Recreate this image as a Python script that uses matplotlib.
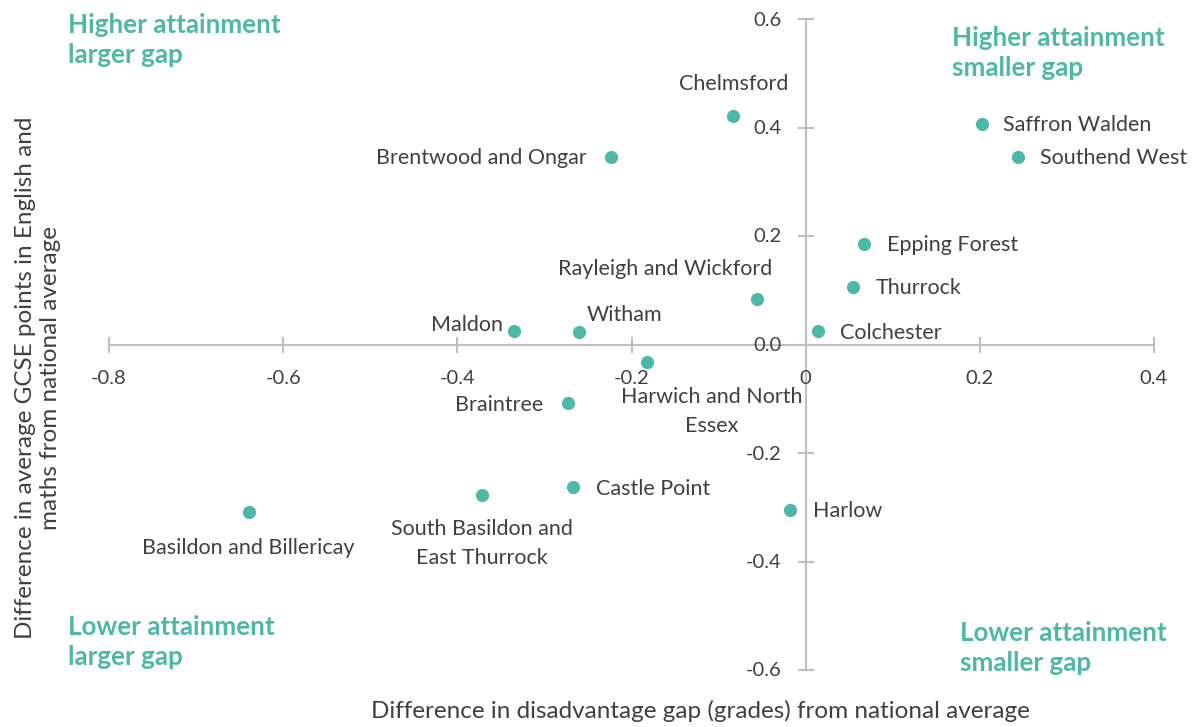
import matplotlib
matplotlib.use("Agg")
import matplotlib.pyplot as plt

plt.rcParams['font.family'] = ['Lato', 'DejaVu Sans']

names = ["Chelmsford", "Brentwood and Ongar", "Saffron Walden", "Southend West",
         "Epping Forest", "Thurrock", "Rayleigh and Wickford", "Colchester",
         "Maldon", "Witham", "Harwich and North\nEssex", "Braintree",
         "Castle Point", "South Basildon and\nEast Thurrock", "Basildon and Billericay",
         "Harlow"]
gap_diff = [-0.083, -0.223, 0.203, 0.244, 0.067, 0.054, -0.056, 0.014,
            -0.335, -0.260, -0.182, -0.273, -0.267, -0.372, -0.639, -0.018]
attain_diff = [0.421, 0.346, 0.406, 0.346, 0.185, 0.106, 0.084, 0.025,
               0.025, 0.023, -0.032, -0.108, -0.263, -0.277, -0.309, -0.305]

x_ticks = [-0.8, -0.6, -0.4, -0.2, 0, 0.2, 0.4]
x_tick_labels = ["-0.8", "-0.6", "-0.4", "-0.2", "0", "0.2", "0.4"]
y_ticks = [-0.6, -0.4, -0.2, 0.0, 0.2, 0.4, 0.6]
y_tick_labels = ["-0.6", "-0.4", "-0.2", "0.0", "0.2", "0.4", "0.6"]

# label placement: (dx, dy) pixel offset, ha
label_pos = [
    (0, 32, 'center'), (-25, -1, 'right'), (21, -1, 'left'), (22, -1, 'left'),
    (23, -1, 'left'), (23, -1, 'left'), (-92, 30, 'center'), (22, -2, 'left'),
    (-11, 6, 'right'), (7, 17, 'left'), (65, -50, 'center'), (-25, -2, 'right'),
    (23, -2, 'left'), (0, -49, 'center'), (-1, -36, 'center'), (23, -1, 'left'),
]

teal = '#4DB8A6'
grey_text = '#404040'
axis_grey = '#BFBFBF'

fig = plt.figure(figsize=(11.97, 7.27), dpi=100)
ax = fig.add_axes([109/1197, 57/727, 1045/1197, 651/727])
ax.set_xlim(-0.8, 0.4)
ax.set_ylim(-0.6, 0.6)

ax.scatter(gap_diff, attain_diff, s=90, color=teal, zorder=3, linewidths=0)

for n, x, y, (dx, dy, ha) in zip(names, gap_diff, attain_diff, label_pos):
    ax.annotate(n, (x, y), xytext=(dx, dy), textcoords='offset pixels',
                ha=ha, va='center', fontsize=15.5, color=grey_text,
                linespacing=1.55)

for s in ['top', 'right']:
    ax.spines[s].set_visible(False)
ax.spines['left'].set_position(('data', 0))
ax.spines['bottom'].set_position(('data', 0))
for s in ['left', 'bottom']:
    ax.spines[s].set_color(axis_grey)
    ax.spines[s].set_linewidth(1.5)

ax.set_xticks(x_ticks)
ax.set_xticklabels([])
ax.set_yticks(y_ticks)
ax.set_yticklabels([])
ax.tick_params(axis='both', direction='inout', length=11, width=1.5, color=axis_grey)

for v, t in zip(x_ticks, x_tick_labels):
    ax.annotate(t, (v, 0), xytext=(0, -34), textcoords='offset pixels',
                ha='center', va='center', fontsize=14.5, color=grey_text)
for v, t in zip(y_ticks, y_tick_labels):
    ax.annotate(t, (0, v), xytext=(-24, -1), textcoords='offset pixels',
                ha='right', va='center', fontsize=14.5, color=grey_text)

fig.text(700/1197, 1 - 711/727, "Difference in disadvantage gap (grades) from national average",
         ha='center', va='center', fontsize=17.5, color=grey_text)
fig.text(38/1197, 1 - 378/727, "Difference in average GCSE points in English and\nmaths from national average",
         ha='center', va='center', rotation=90, fontsize=17.5, color=grey_text, linespacing=1.2)

qfs = 18.7
fig.text(68/1197, 1 - 13/727, "Higher attainment\nlarger gap", ha='left', va='top',
         fontsize=qfs, fontweight='bold', color=teal, linespacing=1.3)
fig.text(952/1197, 1 - 26/727, "Higher attainment\nsmaller gap", ha='left', va='top',
         fontsize=qfs, fontweight='bold', color=teal, linespacing=1.3)
fig.text(68/1197, 1 - 615/727, "Lower attainment\nlarger gap", ha='left', va='top',
         fontsize=qfs, fontweight='bold', color=teal, linespacing=1.3)
fig.text(960/1197, 1 - 621/727, "Lower attainment\nsmaller gap", ha='left', va='top',
         fontsize=qfs, fontweight='bold', color=teal, linespacing=1.3)

fig.savefig("out.png", dpi=100)
